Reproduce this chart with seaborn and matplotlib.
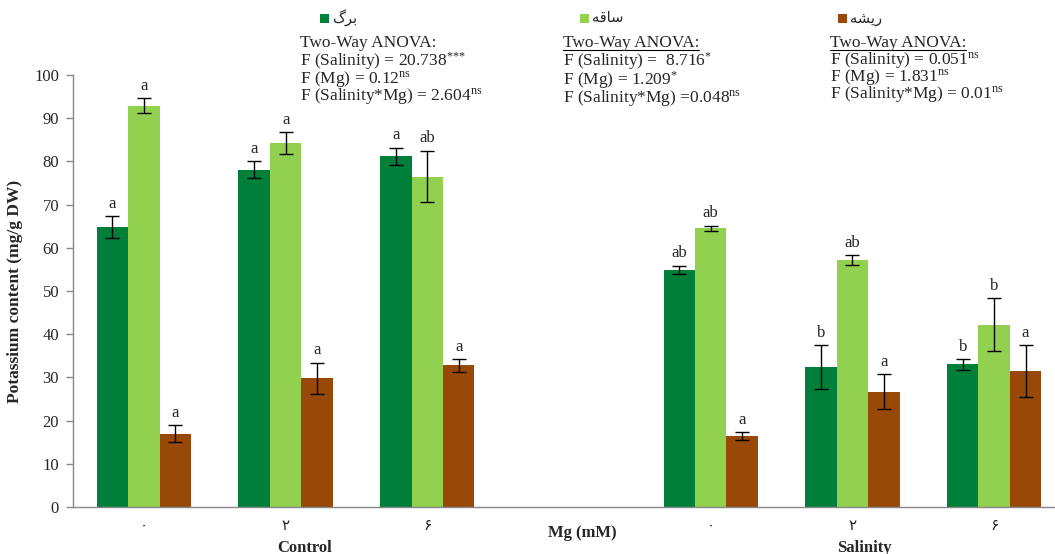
"""Potassium content in leaf / stem / root under control and salinity."""
import numpy as np
import pandas as pd
import matplotlib
matplotlib.use("Agg")
import matplotlib.pyplot as plt
import seaborn as sns

# slots on the x axis: three control levels, an empty slot, three salinity levels
SLOTS = ["c0", "c2", "c6", "gap", "s0", "s2", "s6"]
SLOT_LABELS = ["\u06f0", "\u06f2", "\u06f6", "", "\u06f0", "\u06f2", "\u06f6"]
DATA_SLOTS = ["c0", "c2", "c6", "s0", "s2", "s6"]

# organ names (Persian, pre-shaped presentation forms in visual order)
ORGANS = ["\ufb92\ufeae\ufe91", "\ufeea\ufed7\ufe8e\ufeb3", "\ufeea\ufeb8\ufbfe\ufead"]
COLORS = ["#007F3A", "#92D050", "#984807"]

leaf = [64.8, 78.1, 81.2, 54.9, 32.3, 33.0]
stem = [92.9, 84.3, 76.5, 64.5, 57.2, 42.2]
root = [17.0, 29.8, 32.8, 16.4, 26.7, 31.5]

leaf_err = [2.5, 1.9, 2.0, 1.0, 5.1, 1.3]
stem_err = [1.8, 2.5, 6.0, 0.6, 1.1, 6.2]
root_err = [2.0, 3.6, 1.5, 1.0, 4.0, 6.0]

leaf_lab = ["a", "a", "a", "ab", "b", "b"]
stem_lab = ["a", "a", "ab", "ab", "ab", "b"]
root_lab = ["a", "a", "a", "a", "a", "a"]

ANOVA_TITLE = "Two-Way ANOVA:"
anova = [
    [r"F (Salinity) = 20.738$^{{*}{*}{*}}$",
     r"F (Mg) = 0.12$^{\rm ns}$",
     r"F (Salinity*Mg) = 2.604$^{\rm ns}$"],
    [r"F (Salinity) =  8.716$^{*}$",
     r"F (Mg) = 1.209$^{*}$",
     r"F (Salinity*Mg) =0.048$^{\rm ns}$"],
    [r"F (Salinity) = 0.051$^{\rm ns}$",
     r"F (Mg) = 1.831$^{\rm ns}$",
     r"F (Salinity*Mg) = 0.01$^{\rm ns}$"],
]
ANOVA_UNDERLINE = [False, True, True]

sns.set_style("white")
plt.rcParams["font.family"] = ["Liberation Serif", "DejaVu Sans"]
plt.rcParams["mathtext.fontset"] = "custom"
plt.rcParams["mathtext.rm"] = "Liberation Serif"
plt.rcParams["mathtext.it"] = "Liberation Serif"

rows = []
for vals, errs, labs, organ in [(leaf, leaf_err, leaf_lab, ORGANS[0]),
                                (stem, stem_err, stem_lab, ORGANS[1]),
                                (root, root_err, root_lab, ORGANS[2])]:
    for slot, v, e, l in zip(DATA_SLOTS, vals, errs, labs):
        rows.append({"slot": slot, "organ": organ, "K": v, "err": e, "lab": l})
df = pd.DataFrame(rows)

W, H = 1055, 554
fig = plt.figure(figsize=(W / 100, H / 100), dpi=100)
x0, x1 = 73, 1065
y0, y1 = 507, 75
ax = fig.add_axes([x0 / W, (H - y0) / H, (x1 - x0) / W, (y0 - y1) / H])

sns.barplot(data=df, x="slot", y="K", hue="organ", order=SLOTS,
            hue_order=ORGANS, palette=COLORS, width=0.665, gap=0,
            errorbar=None, saturation=1, linewidth=0, legend=False, ax=ax)

# error bars + letters, positioned from the drawn bars
for cont, organ in zip(ax.containers, ORGANS):
    sub = df[df["organ"] == organ].set_index("slot")
    for bar in cont.patches:
        xc = bar.get_x() + bar.get_width() / 2
        slot = SLOTS[int(round(xc))]
        r = sub.loc[slot]
        ax.errorbar(xc, r["K"], yerr=r["err"], fmt="none", ecolor="black",
                    elinewidth=1, capsize=5, capthick=1)
        ax.text(xc, r["K"] + r["err"] + 1.0, r["lab"], ha="center", va="bottom",
                fontsize=12)

ax.set_ylim(0, 100)
ax.set_xlim(-0.5, 6.5)
ax.set_yticks(np.arange(0, 101, 10))
ax.tick_params(axis="y", labelsize=12, length=5, width=1, color="#888888",
               direction="out", left=True, pad=5)
ax.set_xticks(range(len(SLOTS)))
ax.set_xticklabels(SLOT_LABELS, fontsize=11, family=["DejaVu Sans"])
ax.tick_params(axis="x", length=0, pad=8)
ax.set_xticks(np.arange(-0.5, 6.6, 1), minor=True)
ax.tick_params(axis="x", which="minor", length=5, width=1, color="#888888",
               direction="out")
ax.set_xlabel("")
ax.set_ylabel("Potassium content (mg/g DW)", fontsize=12.5, fontweight="bold",
              labelpad=8)
for s in ["top", "right"]:
    ax.spines[s].set_visible(False)
for s in ["left", "bottom"]:
    ax.spines[s].set_color("#888888")
    ax.spines[s].set_linewidth(1)

# group labels under the axis
fig.text(582 / W, 1 - 533 / H, "Mg (mM)", ha="center", va="center",
         fontsize=12, fontweight="bold")
fig.text(305 / W, 1 - 548 / H, "Control", ha="center", va="center",
         fontsize=12, fontweight="bold")
fig.text(864 / W, 1 - 548 / H, "Salinity", ha="center", va="center",
         fontsize=12, fontweight="bold")

# legend entries, one above each ANOVA block
leg_x = [320, 580, 838]
for lx, organ, col in zip(leg_x, ORGANS, COLORS):
    fig.patches.append(plt.Rectangle(((lx) / W, 1 - 23 / H), 9 / W, 9 / H,
                                     transform=fig.transFigure,
                                     facecolor=col, edgecolor="none"))
    fig.text((lx + 12) / W, 1 - 18 / H, organ, ha="left", va="center",
             fontsize=10.5, family=["DejaVu Sans"])

blk_x = [300, 563, 830]
fig.canvas.draw()
rend = fig.canvas.get_renderer()
for bx, lines, under in zip(blk_x, anova, ANOVA_UNDERLINE):
    t = fig.text(bx / W, 1 - 47 / H, ANOVA_TITLE, ha="left", va="baseline",
                 fontsize=12.5)
    if under:
        bb = t.get_window_extent(rend)
        fig.add_artist(plt.Line2D([bb.x0 / W, bb.x1 / W],
                                  [(bb.y0 + 1.5) / H, (bb.y0 + 1.5) / H],
                                  color="black", linewidth=0.8,
                                  transform=fig.transFigure))
    fig.text(bx / W, 1 - 50 / H, "\n".join(lines), ha="left", va="top",
             fontsize=12.5, linespacing=0.8)

fig.savefig("out.png", dpi=100)
